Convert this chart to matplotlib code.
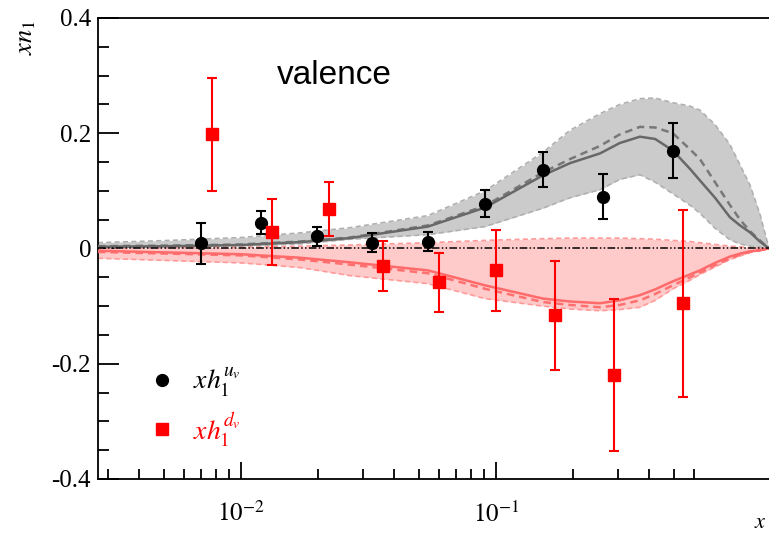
import matplotlib
matplotlib.use("Agg")
import matplotlib.pyplot as plt
from matplotlib.lines import Line2D
from matplotlib.ticker import MultipleLocator, FixedLocator, NullFormatter

plt.rcParams['font.family'] = ['Liberation Serif', 'DejaVu Serif']
plt.rcParams['mathtext.fontset'] = 'stix'

# --- data -----------------------------------------------------------------
# points (u_v in black, d_v in red)
xu = [0.00697, 0.0120, 0.0199, 0.0327, 0.054, 0.0906, 0.153, 0.263, 0.494]
yu = [0.009, 0.045, 0.021, 0.010, 0.012, 0.078, 0.137, 0.090, 0.170]
eu = [0.036, 0.020, 0.017, 0.016, 0.017, 0.023, 0.030, 0.039, 0.047]

xd = [0.00769, 0.01324, 0.0221, 0.0361, 0.0597, 0.100, 0.170, 0.290, 0.541]
yd = [0.198, 0.029, 0.069, -0.030, -0.059, -0.038, -0.116, -0.219, -0.095]
ed = [0.098, 0.057, 0.047, 0.043, 0.052, 0.070, 0.095, 0.132, 0.162]

# curves (shared x grid)
xc = [0.00275, 0.00527, 0.0100, 0.0170, 0.0267, 0.0541, 0.0906, 0.153,
      0.195, 0.256, 0.306, 0.367, 0.421, 0.494, 0.577, 0.631, 0.723,
      0.828, 0.906, 0.991, 1.084, 1.177]

u_fit = [0.003, 0.004, 0.006, 0.011, 0.018, 0.038, 0.071, 0.127,
         0.148, 0.165, 0.183, 0.194, 0.190, 0.170, 0.138, 0.118, 0.088,
         0.054, 0.040, 0.028, 0.012, 0.0]
u_alt = [0.004, 0.005, 0.007, 0.012, 0.019, 0.040, 0.074, 0.132,
         0.155, 0.178, 0.198, 0.211, 0.210, 0.200, 0.172, 0.155, 0.115,
         0.075, 0.050, 0.030, 0.014, 0.0]
u_hi = [0.010, 0.014, 0.019, 0.027, 0.036, 0.057, 0.100, 0.167,
        0.205, 0.234, 0.250, 0.260, 0.261, 0.253, 0.247, 0.240, 0.215,
        0.180, 0.145, 0.110, 0.060, 0.0]
u_lo = [0.001, 0.002, 0.004, 0.008, 0.016, 0.024, 0.038, 0.070,
        0.088, 0.102, 0.120, 0.128, 0.115, 0.095, 0.075, 0.061, 0.035,
        0.015, 0.008, 0.004, 0.002, 0.0]

d_fit = [-0.004, -0.007, -0.010, -0.016, -0.024, -0.038, -0.064, -0.087,
         -0.092, -0.095, -0.090, -0.081, -0.071, -0.057, -0.045, -0.038,
         -0.025, -0.014, -0.009, -0.005, -0.003, 0.0]
d_alt = [-0.006, -0.009, -0.012, -0.019, -0.028, -0.043, -0.070, -0.093,
         -0.098, -0.102, -0.098, -0.090, -0.079, -0.064, -0.050, -0.042,
         -0.029, -0.017, -0.011, -0.006, -0.003, 0.0]
d_hi = [0.000, 0.001, 0.002, 0.004, 0.006, 0.010, 0.014, 0.017,
        0.018, 0.018, 0.018, 0.017, 0.016, 0.014, 0.012, 0.010, 0.007,
        0.004, 0.003, 0.001, 0.0005, 0.0]
d_lo = [-0.017, -0.021, -0.025, -0.033, -0.047, -0.061, -0.087, -0.100,
        -0.105, -0.108, -0.106, -0.102, -0.090, -0.070, -0.055, -0.045,
        -0.032, -0.019, -0.013, -0.007, -0.004, 0.0]

x_major = [0.01, 0.1]
x_minor = [0.003, 0.004, 0.005, 0.006, 0.007, 0.008, 0.009,
           0.02, 0.03, 0.04, 0.05, 0.06, 0.07, 0.08, 0.09,
           0.2, 0.3, 0.4, 0.5, 0.6]
x_labels = ['$10^{-2}$', '$10^{-1}$']
y_ticks = [-0.4, -0.2, 0, 0.2, 0.4]
y_labels = ['-0.4', '-0.2', '0', '0.2', '0.4']

# --- plot -----------------------------------------------------------------
fig = plt.figure(figsize=(7.69, 5.38), dpi=100)
ax = fig.add_axes([0.1274, 0.1097, 0.8726, 0.8569])

# bands
ax.fill_between(xc, u_lo, u_hi, color='#cbcbcb', lw=0, zorder=1)
ax.plot(xc, u_hi, color='#b0b0b0', lw=1.2, ls=(0, (3, 2)), zorder=2)
ax.plot(xc, u_lo, color='#b0b0b0', lw=1.2, ls=(0, (3, 2)), zorder=2)
ax.fill_between(xc, d_lo, d_hi, color='#ffcaca', lw=0, zorder=1)
ax.plot(xc, d_hi, color='#ff9a9a', lw=1.2, ls=(0, (3, 2)), zorder=2)
ax.plot(xc, d_lo, color='#ff9a9a', lw=1.2, ls=(0, (3, 2)), zorder=2)

# central curves
ax.plot(xc, u_alt, color='#787878', lw=1.8, ls=(0, (3, 2)), zorder=3)
ax.plot(xc, u_fit, color='#686868', lw=1.8, zorder=3)
ax.plot(xc, d_alt, color='#ff7070', lw=1.8, ls=(0, (3, 2)), zorder=3)
ax.plot(xc, d_fit, color='#ff6a6a', lw=1.8, zorder=3)

# zero line
ax.axhline(0, color='black', lw=1.1, ls=(0, (5, 1.5, 1, 1.5, 1, 1.5)), zorder=4)

# points
ax.errorbar(xu, yu, yerr=eu, fmt='o', color='black', ms=8.5, elinewidth=1.5,
            capsize=3.5, capthick=1.5, zorder=5)
ax.errorbar(xd, yd, yerr=ed, fmt='s', color='#ff0000', ms=8, elinewidth=1.5,
            capsize=3.5, capthick=1.5, zorder=5)

ax.set_xscale('log')
ax.set_xlim(0.00275, 1.177)
ax.set_ylim(-0.4, 0.4)

ax.xaxis.set_major_locator(FixedLocator(x_major))
ax.xaxis.set_minor_locator(FixedLocator(x_minor))
ax.xaxis.set_minor_formatter(NullFormatter())
ax.set_xticklabels(x_labels)
ax.set_yticks(y_ticks)
ax.set_yticklabels(y_labels)
ax.yaxis.set_minor_locator(MultipleLocator(0.05))

ax.tick_params(axis='y', which='major', direction='in', length=15, width=1.3,
               labelsize=18, pad=5)
ax.tick_params(axis='y', which='minor', direction='in', length=8, width=1.3)
ax.tick_params(axis='x', which='major', direction='in', length=12, width=1.3,
               labelsize=18, pad=16)
ax.tick_params(axis='x', which='minor', direction='in', length=7, width=1.3)

ax.spines['right'].set_visible(False)
for s in ['left', 'top', 'bottom']:
    ax.spines[s].set_linewidth(1.3)

ax.set_ylabel('$xn_1$', fontsize=19, loc='top')
ax.yaxis.set_label_coords(-0.09, 0.995)

fig.text(754 / 769, 1 - 524 / 538, '$x$', fontsize=16, ha='left', va='center')

ax.text(0.352, 0.876, 'valence', transform=ax.transAxes, fontsize=24,
        family='Liberation Sans', ha='center', va='center')

# legend
handles = [Line2D([], [], marker='o', ls='none', color='black', ms=8.5),
           Line2D([], [], marker='s', ls='none', color='#ff0000', ms=8)]
leg = ax.legend(handles, ['$xh_1^{u_v}$', '$xh_1^{d_v}$'], loc='upper left',
                bbox_to_anchor=(0.038, 0.30), frameon=False, fontsize=20,
                handlelength=1.0, handletextpad=0.6, labelspacing=0.4)
leg.get_texts()[1].set_color('#ff0000')

fig.savefig('out.png', dpi=100)
